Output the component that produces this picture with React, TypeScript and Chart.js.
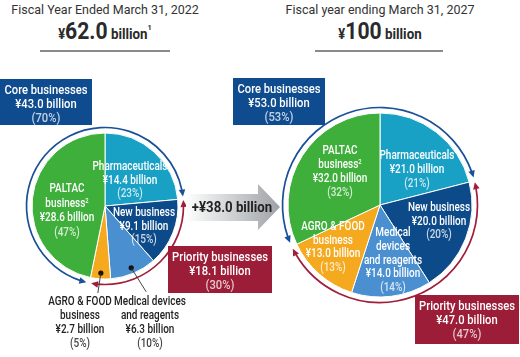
import React, { useEffect, useRef } from "react";
import { Chart, registerables } from "chart.js";
Chart.register(...registerables);

// ---- data ----
const categories = ["Pharmaceuticals", "New business", "Medical devices and reagents", "AGRO & FOOD business", "PALTAC business"];
const values2022 = [14.4, 9.1, 6.3, 2.7, 28.6];
const values2027 = [21.0, 20.0, 14.0, 13.0, 32.0];
const pct2022 = [23, 15, 10, 5, 47];
const pct2027 = [21, 20, 14, 13, 32];
const sliceColors = ["#18a0c5", "#0c4a8a", "#4a8fd0", "#f5a91e", "#3daf3a"];
const coreTotals = [43.0, 53.0];
const corePct = [70, 53];
const priorityTotals = [18.1, 47.0];
const priorityPct = [30, 47];
const totals = ["62.0", "100"];
const increase = "+¥38.0 billion";
const yearTitles = ["Fiscal Year Ended March 31, 2022", "Fiscal year ending March 31, 2027"];
const nameLines2022: string[][] = [["Pharmaceuticals"], ["New business"], ["Medical devices", "and reagents"], ["AGRO & FOOD", "business"], ["PALTAC", "business²"]];
const nameLines2027: string[][] = [["Pharmaceuticals"], ["New business"], ["Medical", "devices", "and reagents"], ["AGRO & FOOD", "business"], ["PALTAC", "business²"]];

const FONT = "Roboto, 'Noto Sans', sans-serif";
const SQUEEZE = 0.83;
const BLUE = "#0f4c8f";
const RED = "#9b1d37";
const RING_BLUE = "#1a5096";
const RING_RED = "#a01e3a";

const deg = Math.PI / 180;

function drawHead(ctx: CanvasRenderingContext2D, x: number, y: number, R: number, a: number, dir: number, color: string) {
  const px = x + R * Math.cos(a), py = y + R * Math.sin(a);
  const tx = -Math.sin(a) * dir, ty = Math.cos(a) * dir;
  const nx = Math.cos(a), ny = Math.sin(a);
  const L = 7, W = 3.3;
  const bx = px - tx * (L - 1), by = py - ty * (L - 1);
  ctx.fillStyle = color;
  ctx.beginPath();
  ctx.moveTo(px + tx, py + ty);
  ctx.lineTo(bx + nx * W, by + ny * W);
  ctx.lineTo(bx - nx * W, by - ny * W);
  ctx.closePath();
  ctx.fill();
}

function drawRing(ctx: CanvasRenderingContext2D, x: number, y: number, R: number, a0: number, a1: number, color: string) {
  ctx.save();
  ctx.strokeStyle = color;
  ctx.lineWidth = 1.7;
  const d = 5 / R;
  ctx.beginPath();
  ctx.arc(x, y, R, a0 + d, a1 - d);
  ctx.stroke();
  drawHead(ctx, x, y, R, a1, 1, color);
  drawHead(ctx, x, y, R, a0, -1, color);
  ctx.restore();
}

function makeRingPlugin(gap: number, leaders: { index: number; dx: number; dy: number }[]) {
  return {
    id: "rings",
    afterDatasetsDraw(chart: any) {
      const ctx = chart.ctx as CanvasRenderingContext2D;
      const arcs = chart.getDatasetMeta(0).data as any[];
      const p0 = arcs[0].getProps(["x", "y", "outerRadius"], true);
      const x = p0.x, y = p0.y, r = p0.outerRadius;
      const R = r + gap;
      const s4 = arcs[4].getProps(["startAngle"], true).startAngle;
      const e0 = arcs[0].getProps(["endAngle"], true).endAngle;
      const s1 = arcs[1].getProps(["startAngle"], true).startAngle;
      const e3 = arcs[3].getProps(["endAngle"], true).endAngle;
      drawRing(ctx, x, y, R, s4 + 3 * deg, e0 + 2 * Math.PI - 2.5 * deg, RING_BLUE);
      drawRing(ctx, x, y, R, s1 + 1.5 * deg, e3 - 2 * deg, RING_RED);
      for (const l of leaders) {
        const p = arcs[l.index].getProps(["startAngle", "endAngle"], true);
        const m = (p.startAngle + p.endAngle) / 2;
        const dx = x + r * 0.92 * Math.cos(m), dy = y + r * 0.92 * Math.sin(m);
        ctx.save();
        ctx.fillStyle = "#111";
        ctx.beginPath();
        ctx.arc(dx, dy, 2.6, 0, Math.PI * 2);
        ctx.fill();
        ctx.strokeStyle = "#333";
        ctx.lineWidth = 0.9;
        ctx.beginPath();
        ctx.moveTo(dx, dy);
        ctx.lineTo(dx + l.dx, dy + l.dy);
        ctx.stroke();
        ctx.restore();
      }
    },
  };
}

type LabelProps = { x: number; top: number; lines: React.ReactNode[]; size?: number; lh?: number; color?: string; fadeColor?: string };
function Label({ x, top, lines, size = 12, lh = 14, color = "#fff", fadeColor = "rgba(255,255,255,0.78)" }: LabelProps) {
  return (
    <div style={{ position: "absolute", left: x, top, transform: `translateX(-50%) scaleX(${SQUEEZE})`, textAlign: "center", whiteSpace: "nowrap", fontFamily: FONT, fontWeight: 500, fontSize: size, lineHeight: lh + "px", color }}>
      {lines.map((ln, i) => (
        <div key={i} style={{ color: i === lines.length - 1 ? fadeColor : color }}>{ln}</div>
      ))}
    </div>
  );
}

function Box({ left, top, width, height, bg, lines }: { left: number; top: number; width: number; height: number; bg: string; lines: string[] }) {
  return (
    <div style={{ position: "absolute", left, top, width, height, background: bg }}>
      <div style={{ position: "absolute", left: width / 2, top: 3, transform: `translateX(-50%) scaleX(${SQUEEZE})`, color: "#fff", fontFamily: FONT, fontWeight: 500, fontSize: 13.5, lineHeight: "14px", textAlign: "center", whiteSpace: "nowrap" }}>
        {lines.map((ln, i) => (
          <div key={i} style={{ color: i === lines.length - 1 ? "rgba(255,255,255,0.75)" : "#fff" }}>{ln}</div>
        ))}
      </div>
    </div>
  );
}

function renderName(s: string): React.ReactNode {
  if (s.endsWith("²")) return (<span>{s.slice(0, -1)}<sup style={{ fontSize: 7, verticalAlign: "top", lineHeight: "10px" }}>2</sup></span>);
  return s;
}

function sliceLines(names: string[][], vals: number[], pcts: number[], i: number) {
  return [...names[i].map(renderName), `¥${vals[i].toFixed(1)} billion`, `(${pcts[i]}%)`];
}

function Header({ cx, title, total, sup, lineLeft, lineWidth }: { cx: number; title: string; total: string; sup?: string; lineLeft: number; lineWidth: number }) {
  return (
    <>
      <div style={{ position: "absolute", left: cx, top: 1, transform: "translateX(-50%) scaleX(0.96)", whiteSpace: "nowrap", fontFamily: FONT, fontSize: 13, lineHeight: "18px", color: "#333" }}>{title}</div>
      <div style={{ position: "absolute", left: cx, top: 19, transform: "translateX(-50%) scaleX(0.92)", whiteSpace: "nowrap", fontFamily: FONT, fontWeight: 700, color: "#2a2a2a", lineHeight: "26px" }}>
        <span style={{ fontSize: 14 }}>¥</span>
        <span style={{ fontSize: 23 }}>{total}</span>
        <span style={{ fontSize: 14.5 }}> billion</span>
        {sup ? <sup style={{ fontSize: 8, verticalAlign: "top", lineHeight: "18px" }}>{sup}</sup> : null}
      </div>
      <div style={{ position: "absolute", left: lineLeft, top: 50, width: lineWidth, height: 2, background: "#8a8a8a" }} />
    </>
  );
}

export default function App() {
  const leftRef = useRef<HTMLCanvasElement>(null);
  const rightRef = useRef<HTMLCanvasElement>(null);

  useEffect(() => {
    const make = (canvas: HTMLCanvasElement, values: number[], radius: number, gap: number, leaders: any[]) =>
      new Chart(canvas, {
        type: "pie",
        data: {
          labels: categories,
          datasets: [{ data: values, backgroundColor: sliceColors, borderColor: "#ffffff", borderWidth: 1, hoverOffset: 0, radius } as any],
        },
        options: {
          responsive: false,
          animation: false,
          events: [],
          layout: { padding: 0 },
          plugins: { legend: { display: false }, tooltip: { enabled: false } },
        },
        plugins: [makeRingPlugin(gap, leaders) as any],
      });
    const c1 = make(leftRef.current!, values2022, 73, 5.5, [
      { index: 3, dx: -3, dy: 20 },
      { index: 2, dx: 15, dy: 24 },
    ]);
    const c2 = make(rightRef.current!, values2027, 92, 5.5, []);
    return () => {
      c1.destroy();
      c2.destroy();
    };
  }, []);

  return (
    <div style={{ position: "absolute", left: 0, top: 0, width: 520, height: 357, background: "#fff", overflow: "hidden" }}>
      <Header cx={105} title={yearTitles[0]} total={totals[0]} sup="1" lineLeft={40} lineWidth={130} />
      <Header cx={380} title={yearTitles[1]} total={totals[1]} lineLeft={315} lineWidth={128} />

      <canvas ref={leftRef} width={200} height={200} style={{ position: "absolute", left: 5, top: 106, width: 200, height: 200 }} />
      <canvas ref={rightRef} width={230} height={230} style={{ position: "absolute", left: 265, top: 90, width: 230, height: 230 }} />

      <svg width={520} height={357} style={{ position: "absolute", left: 0, top: 0, pointerEvents: "none" }}>
        <defs>
          <linearGradient id="ag" x1="185" y1="0" x2="280" y2="0" gradientUnits="userSpaceOnUse">
            <stop offset="0" stopColor="#ffffff" />
            <stop offset="1" stopColor="#9ea2a6" />
          </linearGradient>
        </defs>
        <polygon points="186,194 258,194 258,184 280,207 258,230 258,221 186,221" fill="url(#ag)" />
      </svg>
      <div style={{ position: "absolute", left: 232, top: 198, transform: "translateX(-50%) scaleX(0.88)", whiteSpace: "nowrap", fontFamily: FONT, fontWeight: 700, fontSize: 15, lineHeight: "18px", color: "#222" }}>{increase}</div>

      {/* left pie labels */}
      <Label x={130} top={160} lh={13.5} lines={sliceLines(nameLines2022, values2022, pct2022, 0)} />
      <Label x={144} top={206} lh={13.5} lines={sliceLines(nameLines2022, values2022, pct2022, 1)} />
      <Label x={67} top={181} lh={14.7} lines={sliceLines(nameLines2022, values2022, pct2022, 4)} />
      <Label x={80} top={294} lh={14} color="#222" fadeColor="#444" lines={sliceLines(nameLines2022, values2022, pct2022, 3)} />
      <Label x={150} top={294} lh={14} color="#222" fadeColor="#444" lines={sliceLines(nameLines2022, values2022, pct2022, 2)} />

      {/* right pie labels */}
      <Label x={340} top={143} lh={14} lines={sliceLines(nameLines2027, values2027, pct2027, 4)} />
      <Label x={417} top={148} lh={14} lines={sliceLines(nameLines2027, values2027, pct2027, 0)} />
      <Label x={439} top={201} lh={13.5} lines={sliceLines(nameLines2027, values2027, pct2027, 1)} />
      <Label x={333} top={220} lh={13.7} lines={sliceLines(nameLines2027, values2027, pct2027, 3)} />
      <Label x={393} top={226} lh={13.8} lines={sliceLines(nameLines2027, values2027, pct2027, 2)} />

      <Box left={0} top={79} width={92} height={46} bg={BLUE} lines={["Core businesses", `¥${coreTotals[0].toFixed(1)} billion`, `(${corePct[0]}%)`]} />
      <Box left={168} top={246} width={104} height={47} bg={RED} lines={["Priority businesses", `¥${priorityTotals[0].toFixed(1)} billion`, `(${priorityPct[0]}%)`]} />
      <Box left={233} top={78} width={92} height={47} bg={BLUE} lines={["Core businesses", `¥${coreTotals[1].toFixed(1)} billion`, `(${corePct[1]}%)`]} />
      <Box left={415} top={295} width={104} height={49} bg={RED} lines={["Priority businesses", `¥${priorityTotals[1].toFixed(1)} billion`, `(${priorityPct[1]}%)`]} />
    </div>
  );
}
